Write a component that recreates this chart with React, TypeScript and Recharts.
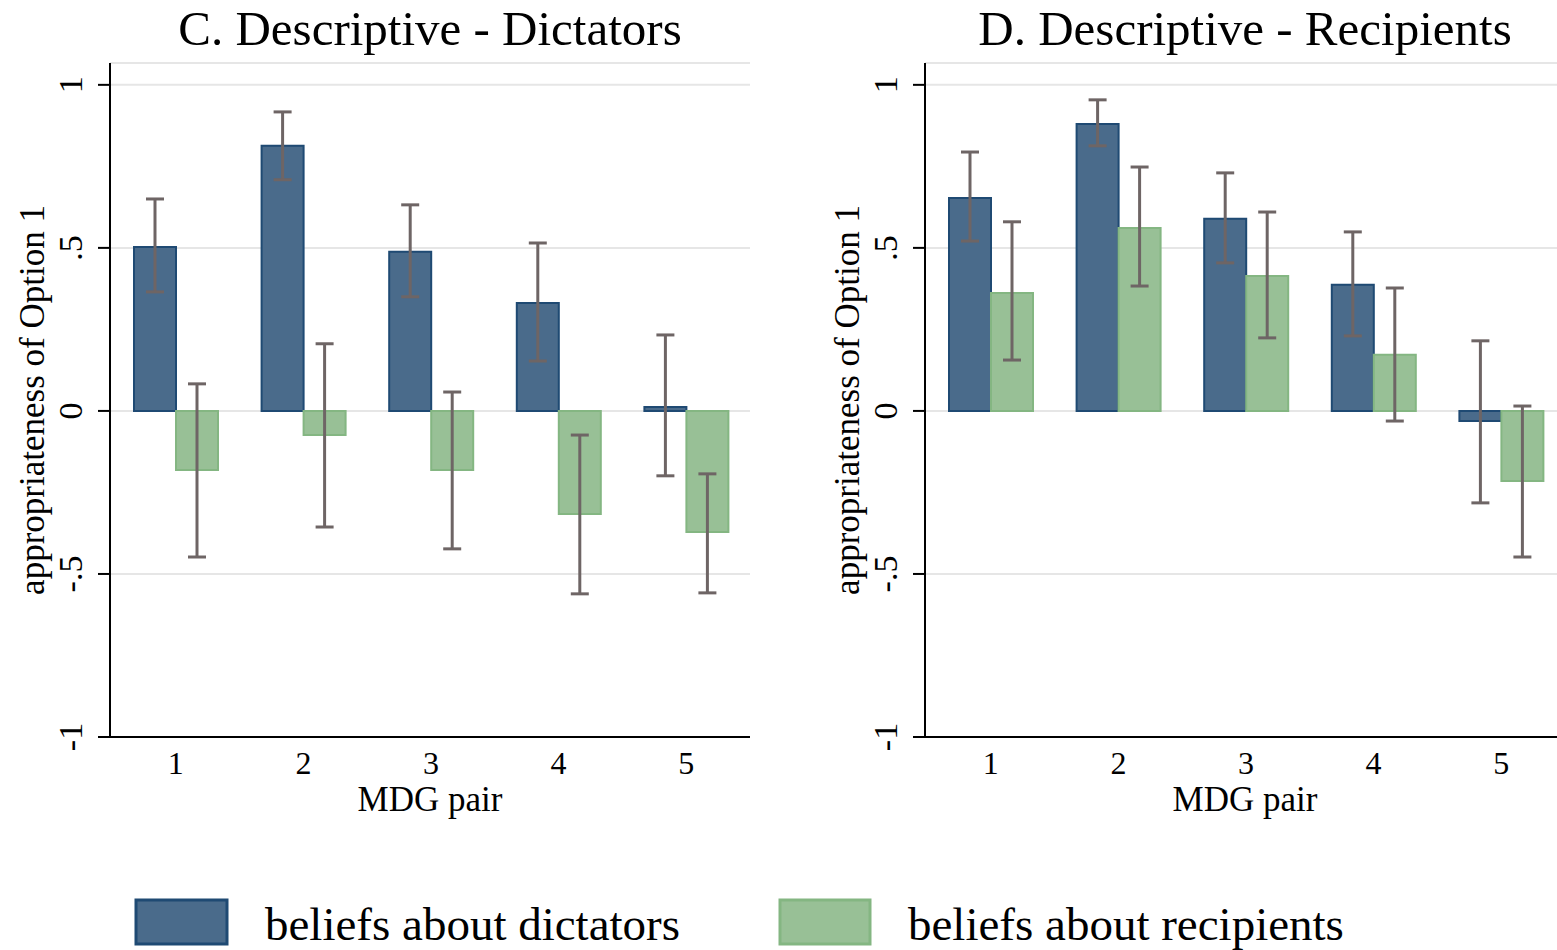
import { BarChart, Bar, XAxis, YAxis, CartesianGrid, ErrorBar } from 'recharts';

const FONT = '"Liberation Serif", "Times New Roman", serif';

const PAIRS = ['1', '2', '3', '4', '5'];
const Y_TICKS = [-1, -0.5, 0, 0.5, 1];

// Panel C: descriptive, dictators
const DICT_C = [0.503, 0.813, 0.488, 0.331, 0.012];
const DICT_C_LO = [0.365, 0.709, 0.35, 0.153, -0.199];
const DICT_C_HI = [0.65, 0.917, 0.632, 0.515, 0.233];
const RECIP_C = [-0.181, -0.074, -0.181, -0.316, -0.371];
const RECIP_C_LO = [-0.448, -0.356, -0.423, -0.561, -0.558];
const RECIP_C_HI = [0.083, 0.206, 0.058, -0.074, -0.193];

// Panel D: descriptive, recipients
const DICT_D = [0.653, 0.88, 0.589, 0.387, -0.031];
const DICT_D_LO = [0.521, 0.813, 0.454, 0.23, -0.282];
const DICT_D_HI = [0.794, 0.954, 0.73, 0.549, 0.215];
const RECIP_D = [0.362, 0.561, 0.414, 0.172, -0.215];
const RECIP_D_LO = [0.156, 0.383, 0.224, -0.031, -0.448];
const RECIP_D_HI = [0.58, 0.748, 0.61, 0.377, 0.015];

const BLUE = '#4a6b8b';
const BLUE_EDGE = '#1f4a73';
const GREEN = '#98c096';
const GREEN_EDGE = '#84b682';
const ERR = '#6e6565';

function buildRows(
  dict: number[], dictLo: number[], dictHi: number[],
  recip: number[], recipLo: number[], recipHi: number[]
) {
  return PAIRS.map((pair, i) => ({
    pair,
    dict: dict[i],
    dictErr: [dict[i] - dictLo[i], dictHi[i] - dict[i]],
    recip: recip[i],
    recipErr: [recip[i] - recipLo[i], recipHi[i] - recip[i]],
  }));
}

const dataC = buildRows(DICT_C, DICT_C_LO, DICT_C_HI, RECIP_C, RECIP_C_LO, RECIP_C_HI);
const dataD = buildRows(DICT_D, DICT_D_LO, DICT_D_HI, RECIP_D, RECIP_D_LO, RECIP_D_HI);

function fmtTick(v: number): string {
  if (v === 0) return '0';
  if (Math.abs(v) === 1) return String(v);
  return v < 0 ? '-.5' : '.5';
}

function YTick(props: any) {
  const { x, y, payload } = props;
  return (
    <text
      x={x}
      y={y}
      transform={`rotate(-90 ${x} ${y})`}
      textAnchor="middle"
      fontSize={34}
      fontFamily={FONT}
      fill="#000"
    >
      {fmtTick(payload.value)}
    </text>
  );
}

function XTick(props: any) {
  const { x, y, payload } = props;
  return (
    <text x={x} y={y + 29} textAnchor="middle" fontSize={32} fontFamily={FONT} fill="#000">
      {payload.value}
    </text>
  );
}

function Panel({ data }: { data: any[] }) {
  return (
    <BarChart
      width={760}
      height={830}
      data={data}
      margin={{ top: 63, right: 10, bottom: 13, left: 0 }}
      barGap={0}
    >
      <CartesianGrid vertical={false} stroke="#e6e6e6" strokeWidth={2} />
      <XAxis
        dataKey="pair"
        height={80}
        padding={{ left: 2, right: 0 }}
        tickLine={false}
        axisLine={{ stroke: '#000', strokeWidth: 2 }}
        tick={<XTick />}
        label={{
          content: (p: any) => {
            const vb = p.viewBox;
            return (
              <text
                x={vb.x + vb.width / 2}
                y={vb.y + 74}
                textAnchor="middle"
                fontSize={35}
                fontFamily={FONT}
                fill="#000"
              >
                MDG pair
              </text>
            );
          },
        }}
      />
      <YAxis
        width={110}
        domain={[-1, 1.067]}
        ticks={Y_TICKS}
        allowDataOverflow
        tickSize={12}
        tickMargin={16}
        tickLine={{ stroke: '#000', strokeWidth: 2 }}
        axisLine={{ stroke: '#000', strokeWidth: 2 }}
        tick={<YTick />}
        label={{
          content: (p: any) => {
            const vb = p.viewBox;
            const cx = vb.x + 44;
            const cy = vb.y + vb.height / 2;
            return (
              <text
                x={cx}
                y={cy}
                transform={`rotate(-90 ${cx} ${cy})`}
                textAnchor="middle"
                fontSize={35}
                fontFamily={FONT}
                fill="#000"
              >
                appropriateness of Option 1
              </text>
            );
          },
        }}
      />
      <Bar dataKey="dict" fill={BLUE} stroke={BLUE_EDGE} strokeWidth={2} barSize={42} isAnimationActive={false}>
        <ErrorBar dataKey="dictErr" width={9} strokeWidth={3} stroke={ERR} isAnimationActive={false} />
      </Bar>
      <Bar dataKey="recip" fill={GREEN} stroke={GREEN_EDGE} strokeWidth={2} barSize={42} isAnimationActive={false}>
        <ErrorBar dataKey="recipErr" width={9} strokeWidth={3} stroke={ERR} isAnimationActive={false} />
      </Bar>
    </BarChart>
  );
}

export default function App() {
  return (
    <div
      style={{
        position: 'absolute',
        left: 0,
        top: 0,
        width: 1557,
        height: 950,
        overflow: 'hidden',
        background: '#fff',
      }}
    >
      <svg width={1557} height={950} style={{ position: 'absolute', left: 0, top: 0 }}>
        <text x={430} y={45} textAnchor="middle" fontSize={49} fontFamily={FONT} fill="#000">
          C. Descriptive - Dictators
        </text>
        <text x={1245} y={45} textAnchor="middle" fontSize={49} fontFamily={FONT} fill="#000">
          D. Descriptive - Recipients
        </text>
        <rect x={136} y={900} width={91} height={44} fill={BLUE} stroke={BLUE_EDGE} strokeWidth={3} />
        <text x={265} y={940} fontSize={47} fontFamily={FONT} fill="#000">
          beliefs about dictators
        </text>
        <rect x={780} y={900} width={90} height={44} fill={GREEN} stroke={GREEN_EDGE} strokeWidth={3} />
        <text x={908} y={940} fontSize={47} fontFamily={FONT} fill="#000">
          beliefs about recipients
        </text>
      </svg>
      <div style={{ position: 'absolute', left: 0, top: 0 }}>
        <Panel data={dataC} />
      </div>
      <div style={{ position: 'absolute', left: 815, top: 0 }}>
        <Panel data={dataD} />
      </div>
    </div>
  );
}
